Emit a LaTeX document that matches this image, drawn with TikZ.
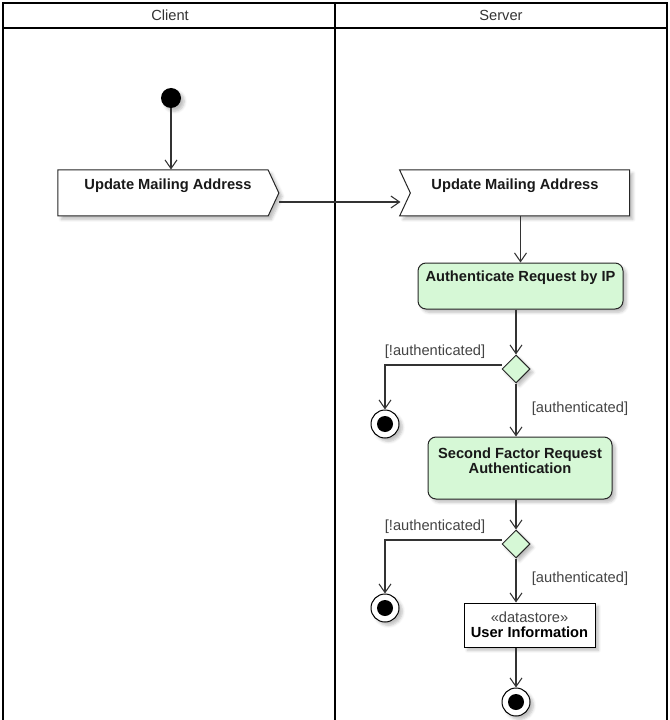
\documentclass[tikz,border=0pt]{standalone}
\usepackage{fontspec}
\setmainfont{Liberation Sans}
\usetikzlibrary{arrows.meta,shapes.symbols,shapes.geometric,shadows.blur}
\definecolor{actgreen}{HTML}{D6F8D6}
\definecolor{linegray}{HTML}{333333}
\definecolor{labelgray}{HTML}{444444}
\begin{document}
\begin{tikzpicture}[x=0.75pt,y=-0.75pt,
  frame/.style={line width=1.5pt, draw=black},
  lanetitle/.style={font=\fontsize{11}{12}\selectfont, text=linegray},
  arr/.style={draw=linegray, line width=0.8pt, -{Straight Barb[length=6.5pt,width=9pt]}},
  shadowed/.style={blur shadow={shadow xshift=2.5pt, shadow yshift=-2.5pt, shadow opacity=25, shadow blur steps=5}},
  boxtext/.style={font=\bfseries\fontsize{11}{11.5}\selectfont, text=black!90, align=center},
  guard/.style={font=\fontsize{11}{13}\selectfont, text=labelgray},
  sendsig/.style={signal, signal to=east, signal pointer angle=130, draw=black!85, fill=white,
    line width=0.75pt, minimum width=165.75pt, minimum height=34.5pt, inner sep=0pt, shadowed},
  recvsig/.style={signal, signal from=west, signal to=nowhere, signal pointer angle=130, draw=black!85,
    fill=white, line width=0.75pt, minimum width=172.5pt, minimum height=34.5pt, inner sep=0pt, shadowed},
  action/.style={rectangle, rounded corners=6pt, draw=black!85, fill=actgreen, line width=0.75pt,
    inner sep=0pt, shadowed},
  decision/.style={diamond, aspect=1, draw=black!85, fill=actgreen, line width=0.75pt,
    minimum size=21pt, inner sep=0pt, shadowed},
  initnode/.style={circle, fill=black, minimum size=15pt, inner sep=0pt, shadowed},
  finalnode/.style={circle, draw=black, fill=white, line width=0.75pt, minimum size=21pt, inner sep=0pt,
    path picture={\fill[black] (path picture bounding box.center) circle (6pt);}, shadowed},
  store/.style={rectangle, draw=black, fill=white, line width=0.75pt, minimum width=98.25pt,
    minimum height=33pt, inner sep=0pt, align=center, shadowed}]
\useasboundingbox (0,0) rectangle (670,720);

% swimlane frame
\draw[frame] (3,740) -- (3,3) -- (667,3) -- (667,740);
\draw[frame] (3,28) -- (667,28);
\draw[frame] (335,3) -- (335,740);
\node[lanetitle] (lclient) at (170,15) {Client};
\node[lanetitle] (lserver) at (501,15) {Server};

% nodes
\node[initnode] (start) at (171,98) {};
\node[sendsig] (send) at (163,193) {};
\node[boxtext] (tsend) at (168,185.5) {Update Mailing Address};
\node[recvsig] (recv) at (520,193) {};
\node[boxtext] (trecv) at (515,185.5) {Update Mailing Address};

\node[action, minimum width=153.75pt, minimum height=34.5pt] (auth) at (520.5,286) {};
\node[boxtext] (tauth) at (520.5,277.5) {Authenticate Request by IP};

\node[decision] (d1) at (516,369) {};
\node[finalnode] (f1) at (385,424) {};

\node[action, minimum width=138pt, minimum height=46.5pt] (sf) at (520,468) {};
\node[boxtext] (tsf) at (520,461) {Second Factor Request\\Authentication};

\node[decision] (d2) at (516,544) {};
\node[finalnode] (f2) at (385,608) {};

\node[store] (ds) at (529.5,625) {{\fontsize{11}{12}\selectfont\color{labelgray}«datastore»}\\[-1pt]
  {\bfseries\fontsize{11}{12}\selectfont User Information}};
\node[finalnode] (f3) at (516,702) {};

% guard labels
\node[guard] (g1) at (435,352) {[!authenticated]};
\node[guard] (g2) at (580,409) {[authenticated]};
\node[guard] (g3) at (435,527) {[!authenticated]};
\node[guard] (g4) at (580,579) {[authenticated]};

% connectors
\draw[arr] (start) -- (start |- send.north);
\draw[arr] ([yshift=-6.75pt]send.east) -- ([xshift=-7pt,yshift=-6.75pt]send.east -| recv.west);
\draw[arr] (auth.north |- recv.south) -- (auth.north);
\draw[arr] (d1.north |- auth.south) -- (d1.north);
\draw[arr] ([yshift=3pt]d1.west) -| (f1.north);
\draw[arr] (d1.south) -- (d1.south |- sf.north);
\draw[arr] (d2.north |- sf.south) -- (d2.north);
\draw[arr] ([yshift=3pt]d2.west) -| (f2.north);
\draw[arr] (d2.south) -- (d2.south |- ds.north);
\draw[arr] (f3.north |- ds.south) -- (f3.north);
\end{tikzpicture}
\end{document}
